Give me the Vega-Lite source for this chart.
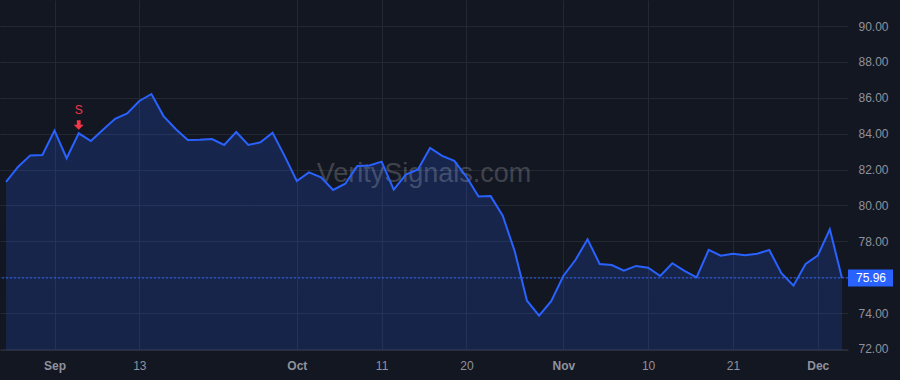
{
  "$schema": "https://vega.github.io/schema/vega-lite/v6.json",
  "width": 848,
  "height": 350,
  "autosize": {"type": "none"},
  "padding": {"left": 0, "top": 0, "right": 52, "bottom": 30},
  "background": "#131722",
  "config": {
    "view": {"stroke": null},
    "font": "Liberation Sans",
    "axis": {
      "gridColor": "#242833",
      "gridWidth": 1,
      "domainColor": "#2a2e39",
      "ticks": false,
      "labelColor": "#8f929c",
      "labelFont": "Liberation Sans",
      "labelFontSize": 12,
      "labelOverlap": false,
      "title": null
    }
  },
  "datasets": {
    "prices": [
      {"date": "2023-08-28", "price": 81.32},
      {"date": "2023-08-29", "price": 82.16},
      {"date": "2023-08-30", "price": 82.79},
      {"date": "2023-08-31", "price": 82.81},
      {"date": "2023-09-01", "price": 84.17},
      {"date": "2023-09-05", "price": 82.63},
      {"date": "2023-09-06", "price": 84.02},
      {"date": "2023-09-07", "price": 83.59},
      {"date": "2023-09-08", "price": 84.22},
      {"date": "2023-09-11", "price": 84.83},
      {"date": "2023-09-12", "price": 85.13},
      {"date": "2023-09-13", "price": 85.82},
      {"date": "2023-09-14", "price": 86.21},
      {"date": "2023-09-15", "price": 84.98},
      {"date": "2023-09-18", "price": 84.26},
      {"date": "2023-09-19", "price": 83.65},
      {"date": "2023-09-20", "price": 83.66},
      {"date": "2023-09-21", "price": 83.70},
      {"date": "2023-09-22", "price": 83.37},
      {"date": "2023-09-25", "price": 84.09},
      {"date": "2023-09-26", "price": 83.37},
      {"date": "2023-09-27", "price": 83.52},
      {"date": "2023-09-28", "price": 84.05},
      {"date": "2023-09-29", "price": 82.75},
      {"date": "2023-10-02", "price": 81.36},
      {"date": "2023-10-03", "price": 81.84},
      {"date": "2023-10-04", "price": 81.57},
      {"date": "2023-10-05", "price": 80.86},
      {"date": "2023-10-06", "price": 81.21},
      {"date": "2023-10-09", "price": 82.20},
      {"date": "2023-10-10", "price": 82.23},
      {"date": "2023-10-11", "price": 82.44},
      {"date": "2023-10-12", "price": 80.88},
      {"date": "2023-10-13", "price": 81.72},
      {"date": "2023-10-16", "price": 82.01},
      {"date": "2023-10-17", "price": 83.20},
      {"date": "2023-10-18", "price": 82.76},
      {"date": "2023-10-19", "price": 82.48},
      {"date": "2023-10-20", "price": 81.60},
      {"date": "2023-10-23", "price": 80.50},
      {"date": "2023-10-24", "price": 80.52},
      {"date": "2023-10-25", "price": 79.43},
      {"date": "2023-10-26", "price": 77.42},
      {"date": "2023-10-27", "price": 74.69},
      {"date": "2023-10-30", "price": 73.86},
      {"date": "2023-10-31", "price": 74.67},
      {"date": "2023-11-01", "price": 76.07},
      {"date": "2023-11-02", "price": 76.96},
      {"date": "2023-11-03", "price": 78.11},
      {"date": "2023-11-06", "price": 76.74},
      {"date": "2023-11-07", "price": 76.68},
      {"date": "2023-11-08", "price": 76.36},
      {"date": "2023-11-09", "price": 76.63},
      {"date": "2023-11-10", "price": 76.53},
      {"date": "2023-11-13", "price": 76.07},
      {"date": "2023-11-14", "price": 76.78},
      {"date": "2023-11-15", "price": 76.35},
      {"date": "2023-11-16", "price": 75.99},
      {"date": "2023-11-17", "price": 77.52},
      {"date": "2023-11-20", "price": 77.20},
      {"date": "2023-11-21", "price": 77.31},
      {"date": "2023-11-22", "price": 77.22},
      {"date": "2023-11-24", "price": 77.31},
      {"date": "2023-11-27", "price": 77.52},
      {"date": "2023-11-28", "price": 76.22},
      {"date": "2023-11-29", "price": 75.53},
      {"date": "2023-11-30", "price": 76.74},
      {"date": "2023-12-01", "price": 77.20},
      {"date": "2023-12-04", "price": 78.67},
      {"date": "2023-12-05", "price": 75.96}
    ],
    "last": [{"price": 75.96}],
    "signals": [{"date": "2023-09-06", "price": 84.02, "label": "S"}],
    "watermark": [{"text": "VeritySignals.com"}]
  },
  "encoding": {
    "x": {
      "field": "date",
      "type": "ordinal",
      "scale": {"type": "point", "padding": 0.5},
      "axis": {
        "orient": "bottom",
        "grid": true,
        "domain": true,
        "labelAngle": 0,
        "labelPadding": 10,
        "values": ["2023-09-01", "2023-09-13", "2023-10-02", "2023-10-11", "2023-10-20", "2023-11-01", "2023-11-10", "2023-11-21", "2023-12-01"],
        "labelExpr": "datum.value == '2023-09-01' ? 'Sep' : datum.value == '2023-10-02' ? 'Oct' : datum.value == '2023-11-01' ? 'Nov' : datum.value == '2023-12-01' ? 'Dec' : toNumber(slice(datum.value, 8)) + ''",
        "labelFontWeight": {
          "condition": {"test": "indexof(['2023-09-01','2023-10-02','2023-11-01','2023-12-01'], datum.value) >= 0", "value": "bold"},
          "value": "normal"
        }
      }
    },
    "y": {
      "field": "price",
      "type": "quantitative",
      "scale": {"domain": [71.944, 91.449], "zero": false, "nice": false},
      "axis": {
        "orient": "right",
        "grid": true,
        "domain": false,
        "values": [72, 74, 76, 78, 80, 82, 84, 86, 88, 90],
        "labelExpr": "datum.value == 76 ? '' : format(datum.value, '.2f')",
        "labelPadding": 10,
        "labelAlign": "left",
        "labelBaseline": "middle",
        "labelOverlap": false
      }
    }
  },
  "layer": [
    {
      "data": {"name": "prices"},
      "mark": {
        "type": "area",
        "clip": true,
        "color": {
          "gradient": "linear",
          "x1": 0, "y1": 0, "x2": 0, "y2": 1,
          "stops": [
            {"offset": 0, "color": "rgba(41,98,255,0.2)"},
            {"offset": 1, "color": "rgba(41,98,255,0.05)"}
          ]
        }
      },
      "encoding": {}
    },
    {
      "data": {"name": "watermark"},
      "mark": {
        "type": "text",
        "x": {"expr": "width/2"},
        "y": {"expr": "height*0.52"},
        "align": "center",
        "baseline": "alphabetic",
        "fontSize": 27,
        "font": "Liberation Sans",
        "color": "rgba(255,255,255,0.2)"
      },
      "encoding": {"text": {"field": "text"}, "x": null, "y": null}
    },
    {
      "data": {"name": "prices"},
      "mark": {"type": "line", "color": "#2962FF", "strokeWidth": 2, "clip": true},
      "encoding": {}
    },
    {
      "data": {"name": "last"},
      "mark": {"type": "rule", "color": "#2962FF", "strokeWidth": 1, "strokeDash": [2, 2]},
      "encoding": {"x": null}
    },
    {
      "data": {"name": "last"},
      "mark": {
        "type": "rect",
        "color": "#2962FF",
        "x": {"expr": "width"},
        "x2": {"expr": "width + 45"},
        "yOffset": -8.5,
        "y2Offset": 8.5
      },
      "encoding": {
        "x": null,
        "y2": {"field": "price"}
      }
    },
    {
      "data": {"name": "last"},
      "mark": {
        "type": "text",
        "color": "#ffffff",
        "x": {"expr": "width + 23"},
        "align": "center",
        "baseline": "middle",
        "fontSize": 12,
        "font": "Liberation Sans"
      },
      "encoding": {
        "x": null,
        "text": {"field": "price", "type": "quantitative", "format": ".2f"}
      }
    },
    {
      "data": {"name": "signals"},
      "mark": {
        "type": "point",
        "shape": "M-0.38,-1H0.38V-0.1H1L0,0.9L-1,-0.1H-0.38Z",
        "filled": true,
        "size": 100,
        "opacity": 1,
        "color": "#f23645",
        "yOffset": -8
      },
      "encoding": {}
    },
    {
      "data": {"name": "signals"},
      "mark": {
        "type": "text",
        "color": "#f23645",
        "fontSize": 12,
        "font": "Liberation Sans",
        "align": "center",
        "baseline": "middle",
        "yOffset": -23
      },
      "encoding": {
        "text": {"field": "label"}
      }
    }
  ]
}
